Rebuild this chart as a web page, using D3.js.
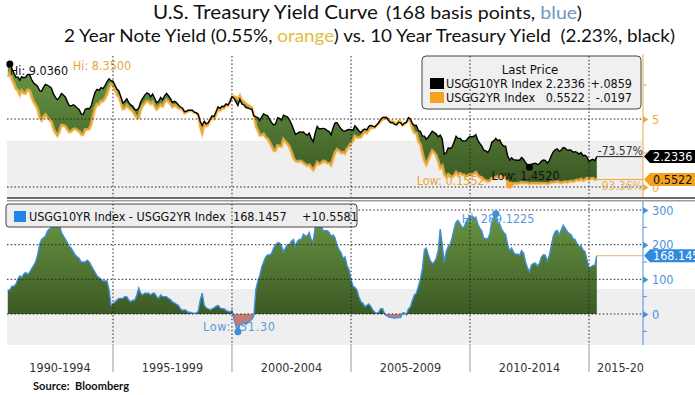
<!DOCTYPE html>
<html>
<head>
<meta charset="utf-8">
<script src="https://cdn.jsdelivr.net/npm/d3@7"></script>
<style>
  body { margin: 0; background: #fff; }
  svg { display: block; }
</style>
</head>
<body>
<svg id="chart" width="695" height="395"></svg>
<script>
"use strict"

// monthly values, first month is Aug 1990
const firstMonth = new Date(1990, 7, 1);

// 10 year treasury yield (%)
const yield10 = [
  8.80, 9.036, 8.72, 8.39, 8.08,
  8.09, 7.85, 8.11, 8.04, 8.07, 8.28, 8.27, 7.90, 7.65, 7.53, 7.42, 7.09,
  7.03, 7.34, 7.54, 7.48, 7.39, 7.26, 6.84, 6.59, 6.42, 6.59, 6.87, 6.77,
  6.60, 6.26, 5.98, 5.97, 6.04, 5.96, 5.81, 5.68, 5.36, 5.33, 5.72, 5.77,
  5.75, 5.97, 6.48, 6.97, 7.18, 7.10, 7.30, 7.24, 7.46, 7.74, 7.96, 7.81,
  7.78, 7.47, 7.20, 7.06, 6.63, 6.17, 6.28, 6.49, 6.20, 6.04, 5.93, 5.71,
  5.65, 5.81, 6.27, 6.51, 6.74, 6.91, 6.87, 6.64, 6.83, 6.53, 6.20, 6.30,
  6.58, 6.42, 6.69, 6.89, 6.71, 6.49, 6.22, 6.30, 6.21, 6.03, 5.88, 5.81,
  5.54, 5.57, 5.65, 5.64, 5.65, 5.50, 5.46, 5.34, 4.81, 4.53, 4.83, 4.65,
  4.72, 5.00, 5.23, 5.18, 5.54, 5.90, 5.79, 5.94, 5.92, 6.11, 6.03, 6.28,
  6.66, 6.52, 6.26, 5.99, 6.44, 6.10, 6.05, 5.83, 5.80, 5.74, 5.72, 5.24,
  5.16, 5.10, 4.89, 5.14, 5.39, 5.28, 5.24, 4.97, 4.73, 4.57, 4.65, 5.09,
  5.04, 4.91, 5.28, 5.21, 5.16, 4.93, 4.65, 4.26, 3.87, 3.94, 4.05, 4.03,
  4.05, 3.90, 3.81, 3.96, 3.57, 3.33, 3.98, 4.45, 4.27, 4.29, 4.30, 4.27,
  4.15, 4.08, 3.83, 4.35, 4.72, 4.73, 4.50, 4.28, 4.13, 4.10, 4.19, 4.23,
  4.22, 4.17, 4.50, 4.34, 4.14, 4.00, 4.18, 4.26, 4.20, 4.46, 4.54, 4.47,
  4.42, 4.57, 4.72, 4.99, 5.11, 5.11, 5.09, 4.88, 4.72, 4.73, 4.60, 4.56,
  4.76, 4.72, 4.56, 4.69, 4.75, 5.10, 5.00, 4.67, 4.52, 4.53, 4.15, 4.10,
  3.74, 3.74, 3.51, 3.68, 3.88, 4.10, 4.01, 3.89, 3.69, 3.81, 3.53, 2.42,
  2.52, 2.87, 2.82, 2.93, 3.29, 3.72, 3.56, 3.59, 3.40, 3.39, 3.40, 3.59,
  3.73, 3.69, 3.73, 3.85, 3.42, 3.20, 3.01, 2.70, 2.65, 2.54, 2.76, 3.29,
  3.39, 3.58, 3.41, 3.46, 3.17, 3.00, 3.00, 2.30, 1.98, 2.15, 2.01, 1.98,
  1.97, 1.97, 2.17, 2.05, 1.80, 1.62, 1.452, 1.68, 1.72, 1.75, 1.65, 1.72,
  1.91, 1.98, 1.96, 1.76, 1.93, 2.30, 2.58, 2.74, 2.81, 2.62, 2.72, 2.90,
  2.86, 2.71, 2.72, 2.71, 2.56, 2.60, 2.54, 2.42, 2.53, 2.30, 2.33, 2.21,
  1.88, 1.98, 2.04, 1.94, 2.2336
];

// 2 year note yield (%)
const yield2 = [
  8.10, 8.35, 7.92, 7.59, 7.23,
  7.09, 6.75, 7.06, 6.89, 6.87, 7.13, 7.07, 6.60, 6.25, 6.03, 5.72, 5.09,
  4.88, 5.14, 5.29, 5.08, 4.94, 4.76, 4.26, 3.97, 3.77, 4.04, 4.52, 4.52,
  4.45, 4.21, 4.03, 4.07, 4.24, 4.26, 4.16, 4.08, 3.86, 3.83, 4.22, 4.22,
  4.25, 4.57, 5.18, 5.77, 6.08, 6.05, 6.30, 6.29, 6.51, 6.79, 7.26, 7.56,
  7.48, 7.12, 6.80, 6.61, 6.18, 5.72, 5.78, 5.99, 5.80, 5.69, 5.53, 5.31,
  5.10, 5.06, 5.67, 5.96, 6.14, 6.31, 6.27, 6.09, 6.23, 5.93, 5.70, 5.85,
  6.03, 5.92, 6.19, 6.39, 6.26, 6.07, 5.87, 5.98, 5.93, 5.78, 5.73, 5.71,
  5.42, 5.47, 5.60, 5.59, 5.62, 5.48, 5.44, 5.26, 4.41, 3.93, 4.58, 4.47,
  4.57, 4.88, 5.08, 5.00, 5.32, 5.65, 5.61, 5.79, 5.77, 6.01, 5.95, 6.23,
  6.56, 6.67, 6.61, 6.503, 6.74, 6.40, 6.30, 6.13, 6.05, 5.94, 5.87, 5.29,
  4.46, 4.15, 3.79, 3.79, 3.89, 3.63, 3.54, 3.27, 2.98, 2.67, 2.65, 3.04,
  2.99, 2.96, 3.48, 3.31, 3.16, 2.93, 2.55, 2.11, 1.92, 1.84, 1.90, 1.88,
  1.75, 1.65, 1.56, 1.61, 1.42, 1.23, 1.48, 1.80, 1.67, 1.74, 1.90, 1.87,
  1.75, 1.73, 1.58, 2.07, 2.52, 2.75, 2.64, 2.51, 2.53, 2.45, 2.79, 2.95,
  3.22, 3.37, 3.73, 3.64, 3.64, 3.64, 3.87, 4.04, 3.95, 4.17, 4.33, 4.35,
  4.37, 4.55, 4.67, 4.84, 4.96, 5.11, 5.14, 4.96, 4.82, 4.83, 4.72, 4.66,
  4.86, 4.82, 4.53, 4.66, 4.77, 4.95, 4.80, 4.27, 3.97, 3.93, 3.35, 3.10,
  2.44, 1.89, 1.61, 1.98, 2.33, 2.65, 2.51, 2.29, 1.84, 1.36, 1.53, 0.92,
  0.72, 0.92, 0.82, 0.73, 0.84, 1.07, 0.86, 0.99, 0.90, 0.89, 0.75, 0.84,
  0.93, 0.86, 0.96, 1.06, 0.83, 0.72, 0.62, 0.52, 0.47, 0.38, 0.45, 0.62,
  0.61, 0.69, 0.76, 0.86, 0.72, 0.65, 0.70, 0.30, 0.1552, 0.25, 0.23, 0.26,
  0.24, 0.28, 0.34, 0.29, 0.29, 0.29, 0.23, 0.27, 0.26, 0.28, 0.27, 0.26,
  0.27, 0.27, 0.26, 0.23, 0.25, 0.33, 0.34, 0.36, 0.40, 0.34, 0.30, 0.34,
  0.39, 0.33, 0.40, 0.42, 0.39, 0.45, 0.51, 0.47, 0.57, 0.45, 0.53, 0.64,
  0.55, 0.62, 0.64, 0.54, 0.5522
];

// 10Y - 2Y spread (basis points)
const spread = [
  70, 68.6, 80, 80, 85,
  100, 110, 105, 115, 120, 115, 120, 130, 140, 150, 170, 200,
  215, 220, 225, 240, 245, 250, 258, 262, 265, 255, 235, 225,
  215, 205, 195, 190, 180, 170, 165, 160, 150, 150, 150, 155,
  150, 140, 130, 120, 110, 105, 100, 95, 95, 95, 70, 25,
  30, 35, 40, 45, 45, 45, 50, 50, 40, 35, 40, 40,
  55, 75, 60, 55, 60, 60, 60, 55, 60, 60, 50, 45,
  55, 50, 50, 50, 45, 42, 35, 32, 28, 25, 15, 10,
  12, 10, 5, 5, 3, 2, 2, 8, 40, 60, 25, 18,
  15, 12, 15, 18, 22, 25, 18, 15, 15, 10, 8, 5,
  10, -15, -35, -51.3, -30, -30, -25, -30, -25, -20, -15, -5,
  70, 95, 110, 135, 150, 165, 170, 170, 175, 190, 200, 205,
  205, 195, 180, 190, 200, 200, 210, 215, 195, 210, 215, 215,
  230, 225, 225, 235, 215, 210, 250, 265, 260, 255, 240, 240,
  240, 235, 225, 228, 220, 198, 186, 177, 160, 165, 140, 128,
  100, 80, 77, 70, 50, 36, 31, 22, 25, 29, 21, 12,
  5, 2, 5, 15, 15, 0, -5, -8, -10, -10, -12, -10,
  -10, -10, 3, 3, -2, 15, 20, 40, 55, 60, 80, 100,
  130, 185, 190, 170, 155, 145, 150, 160, 185, 245, 200, 150,
  180, 195, 200, 220, 245, 265, 270, 260, 250, 250, 265, 275,
  280, 283, 277, 279, 259, 248, 239, 218, 218, 216, 231, 267,
  278, 289.1225, 265, 260, 245, 235, 230, 200, 182.5, 190, 178, 172,
  173, 169, 183, 176, 151, 133, 122, 141, 146, 147, 138, 146,
  164, 171, 170, 153, 168, 197, 224, 238, 241, 228, 242, 256,
  247, 238, 232, 229, 217, 215, 203, 195, 196, 185, 180, 157,
  133, 136, 140, 140, 168.1457
];

const periodLabels = ["1990-1994", "1995-1999", "2000-2004", "2005-2009", "2010-2014", "2015-2019"];
const yieldTicks = [0, 5];
const yieldMinorTicks = [2.5, 7.5];
const spreadTicks = [0, 100, 200, 300];
const spreadMinorTicks = [-50, 50, 150, 250];

const lastPriceRows = [
  { name: "USGG10YR Index", value: "2.2336", change: "+.0859", color: "#000000" },
  { name: "USGG2YR Index", value: "0.5522", change: "-.0197", color: "#f5a21f" }
];

// ---------------------------------------------------------------
const bbFont = "'DejaVu Sans Condensed','DejaVu Sans',sans-serif";
const titleFont = "Lato,'Open Sans',sans-serif";
const orange = "#f2a52a";
const blue = "#3d8fe0";

const rows = yield10.map((v, i) => ({
  date: d3.timeMonth.offset(firstMonth, i),
  y10: v,
  y2: yield2[i],
  sp: spread[i]
}));

const plotLeft = 7, plotRight = 643;
const topTop = 56, topBottom = 197;
const botTop = 201, botBottom = 345;

const x = d3.scaleTime()
  .domain([new Date(1990, 0, 1), new Date(2015, 0, 1)])
  .range([-6, 589]);
const yTop = d3.scaleLinear().domain([0, 5]).range([187, 119]);
const ySp = d3.scaleLinear().domain([0, 300]).range([314, 210]);

const svg = d3.select("#chart");
const defs = svg.append("defs");

// gradients for the green fills
function greenGrad(id, y1, y2) {
  let g = defs.append("linearGradient").attr("id", id)
    .attr("gradientUnits", "userSpaceOnUse")
    .attr("x1", 0).attr("x2", 0).attr("y1", y1).attr("y2", y2);
  g.append("stop").attr("offset", 0).attr("stop-color", "#6b9744");
  g.append("stop").attr("offset", 1).attr("stop-color", "#3b5a24");
}
greenGrad("gTop", yTop(9), yTop(0.5));
greenGrad("gBot", ySp(300), ySp(0));

defs.append("clipPath").attr("id", "clipTop").append("rect")
  .attr("x", plotLeft).attr("y", topTop).attr("width", plotRight - plotLeft).attr("height", topBottom - topTop);
defs.append("clipPath").attr("id", "clipPos").append("rect")
  .attr("x", plotLeft).attr("y", botTop).attr("width", plotRight - plotLeft).attr("height", ySp(0) - botTop);
defs.append("clipPath").attr("id", "clipNeg").append("rect")
  .attr("x", plotLeft).attr("y", ySp(0)).attr("width", plotRight - plotLeft).attr("height", botBottom - ySp(0));
defs.append("clipPath").attr("id", "clipAxis").append("rect")
  .attr("x", plotLeft).attr("y", botBottom).attr("width", plotRight - plotLeft + 1).attr("height", 40);

// ---------- titles ----------
svg.append("text").attr("x", 153).attr("y", 19)
  .attr("font-family", titleFont).attr("font-size", 20).attr("fill", "#111")
  .attr("textLength", 225).attr("lengthAdjust", "spacingAndGlyphs")
  .text("U.S. Treasury Yield Curve");
let t1b = svg.append("text").attr("x", 386).attr("y", 19)
  .attr("font-family", titleFont).attr("font-size", 16.5).attr("fill", "#111")
  .attr("textLength", 196).attr("lengthAdjust", "spacingAndGlyphs");
t1b.append("tspan").text("(168 basis points, ");
t1b.append("tspan").attr("fill", "#7195c4").text("blue");
t1b.append("tspan").text(")");

let t2 = svg.append("text").attr("x", 64).attr("y", 42)
  .attr("font-family", titleFont).attr("font-size", 17).attr("fill", "#111")
  .attr("textLength", 611).attr("lengthAdjust", "spacingAndGlyphs")
  .style("white-space", "pre");
t2.append("tspan").text("2 Year Note Yield (0.55%, ");
t2.append("tspan").attr("fill", "#e3bd3c").text("orange");
t2.append("tspan").text(") vs. 10 Year Treasury Yield  (2.23%, black)");

// ---------- background bands ----------
svg.append("rect").attr("x", plotLeft).attr("y", yTop(3.4))
  .attr("width", plotRight - plotLeft).attr("height", topBottom - yTop(3.4)).attr("fill", "#efefef");
svg.append("rect").attr("x", plotLeft).attr("y", ySp(72))
  .attr("width", 695 - plotLeft).attr("height", botBottom - ySp(72)).attr("fill", "#efefef");

// ---------- top panel ----------
const gTop = svg.append("g").attr("clip-path", "url(#clipTop)");
gTop.append("path").datum(rows)
  .attr("d", d3.area().x(d => x(d.date)).y0(d => yTop(d.y2)).y1(d => yTop(d.y10)))
  .attr("fill", "url(#gTop)");
gTop.append("path").datum(rows)
  .attr("d", d3.line().x(d => x(d.date)).y(d => yTop(d.y2)))
  .attr("fill", "none").attr("stroke", "#f6c87a").attr("stroke-width", 3.4).attr("opacity", 0.6);
gTop.append("path").datum(rows)
  .attr("d", d3.line().x(d => x(d.date)).y(d => yTop(d.y2)))
  .attr("fill", "none").attr("stroke", orange).attr("stroke-width", 1.6);
gTop.append("path").datum(rows)
  .attr("d", d3.line().x(d => x(d.date)).y(d => yTop(d.y10)))
  .attr("fill", "none").attr("stroke", "#000").attr("stroke-width", 1.4);

// ---------- bottom panel ----------
const spArea = d3.area().x(d => x(d.date)).y0(ySp(0)).y1(d => ySp(d.sp));
svg.append("path").datum(rows).attr("d", spArea)
  .attr("fill", "url(#gBot)").attr("clip-path", "url(#clipPos)");
svg.append("path").datum(rows).attr("d", spArea)
  .attr("fill", "#c67b74").attr("clip-path", "url(#clipNeg)");
svg.append("path").datum(rows)
  .attr("d", d3.line().x(d => x(d.date)).y(d => ySp(d.sp)))
  .attr("fill", "none").attr("stroke", blue).attr("stroke-width", 1.4);

// ---------- horizontal gridlines ----------
const dots = "1.5,2.2";
svg.append("g").selectAll("line").data(yieldTicks).join("line")
  .attr("x1", plotLeft).attr("x2", plotRight)
  .attr("y1", d => yTop(d)).attr("y2", d => yTop(d))
  .attr("stroke", "#222").attr("stroke-width", 1).attr("stroke-dasharray", dots);
svg.append("g").selectAll("line").data(spreadTicks).join("line")
  .attr("x1", plotLeft).attr("x2", plotRight)
  .attr("y1", d => ySp(d)).attr("y2", d => ySp(d))
  .attr("stroke", "#222").attr("stroke-width", 1).attr("stroke-dasharray", dots);

// ---------- last value lines ----------
const last = rows[rows.length - 1];
const xLast = x(last.date);
svg.append("line").attr("x1", xLast).attr("x2", plotRight)
  .attr("y1", yTop(last.y10)).attr("y2", yTop(last.y10)).attr("stroke", "#222").attr("stroke-width", 1);
svg.append("line").attr("x1", xLast).attr("x2", plotRight)
  .attr("y1", yTop(last.y2)).attr("y2", yTop(last.y2)).attr("stroke", orange).attr("stroke-width", 1);
svg.append("line").attr("x1", xLast).attr("x2", plotRight)
  .attr("y1", ySp(last.sp)).attr("y2", ySp(last.sp)).attr("stroke", "#e6b36c").attr("stroke-width", 1);

// ---------- right axes ----------
function rightAxis(scale, major, minor, color, y1, y2) {
  let g = svg.append("g").attr("transform", `translate(${plotRight},0)`)
    .call(d3.axisRight(scale).tickValues(major).tickSize(0).tickPadding(9).tickFormat(d3.format("d")));
  g.select(".domain").remove();
  g.selectAll(".tick text").attr("fill", color).attr("font-family", bbFont).attr("font-size", 12.5);
  g.selectAll(".tick").append("path").attr("d", "M0,-3.5L5.5,0L0,3.5Z").attr("fill", color);
  g.append("g").selectAll("line").data(minor).join("line")
    .attr("x1", 0).attr("x2", 4).attr("y1", d => scale(d)).attr("y2", d => scale(d))
    .attr("stroke", color).attr("stroke-width", 1);
  g.append("line").attr("x1", 0).attr("x2", 0).attr("y1", y1).attr("y2", y2)
    .attr("stroke", color).attr("stroke-width", 1);
}
rightAxis(yTop, yieldTicks, yieldMinorTicks, "#eda746", topTop - 2, topBottom);
rightAxis(ySp, spreadTicks, spreadMinorTicks, "#4a92d8", botTop, botBottom);

svg.append("text").attr("x", xLast + 1).attr("y", yTop(last.y10) - 2)
  .attr("font-family", bbFont).attr("font-size", 12).attr("fill", "#333").text("-73.57%");
svg.append("text").attr("x", xLast + 1).attr("y", yTop(last.y2) + 11)
  .attr("font-family", bbFont).attr("font-size", 12).attr("fill", "#e8b060").text("-93.36%");

// ---------- hi / low markers ----------
function extremeRow(key, fn) {
  let v = fn(rows, d => d[key]);
  return rows.find(d => d[key] === v);
}
const hi10 = extremeRow("y10", d3.max), lo10 = extremeRow("y10", d3.min);
const hi2 = extremeRow("y2", d3.max), lo2 = extremeRow("y2", d3.min);
const hiSp = extremeRow("sp", d3.max), loSp = extremeRow("sp", d3.min);

function label(px, py, txt, color, len) {
  let t = svg.append("text").attr("x", px).attr("y", py)
    .attr("font-family", bbFont).attr("font-size", 12.5).attr("fill", color).text(txt);
  if (len) t.attr("textLength", len);
}
label(x(hi2.date) + 63, yTop(hi2.y2) - 3, "Hi: " + hi2.y2.toFixed(4), "#e8a53c");
label(x(hi10.date), yTop(hi10.y10) + 11, "Hi: " + hi10.y10.toFixed(4), "#111");
label(x(lo2.date) - 93, yTop(lo2.y2) + 0.5, "Low: " + lo2.y2.toFixed(4), "#e8a53c");
label(x(lo10.date) - 38, yTop(lo10.y10) + 12.5, "Low: " + lo10.y10.toFixed(4), "#111");
label(x(hiSp.date) - 34, ySp(hiSp.sp) + 9, "Hi: " + hiSp.sp.toFixed(4), "#5a9ad8");
label(x(loSp.date) - 35, ySp(loSp.sp) - 0.5, "Low: " + loSp.sp.toFixed(2), "#5a9ad8", 72);

svg.append("circle").attr("cx", x(hi10.date)).attr("cy", yTop(hi10.y10)).attr("r", 3.5).attr("fill", "#000");
svg.append("circle").attr("cx", x(lo10.date)).attr("cy", yTop(lo10.y10)).attr("r", 3.5).attr("fill", "#000");
svg.append("circle").attr("cx", x(lo2.date)).attr("cy", yTop(lo2.y2)).attr("r", 3.5).attr("fill", orange);
svg.append("circle").attr("cx", x(hiSp.date)).attr("cy", ySp(hiSp.sp)).attr("r", 3.5).attr("fill", blue);
svg.append("circle").attr("cx", x(loSp.date)).attr("cy", ySp(loSp.sp)).attr("r", 3.5).attr("fill", blue);

// ---------- legends ----------
svg.append("rect").attr("x", 422).attr("y", 56).attr("width", 219).attr("height", 53).attr("rx", 4)
  .attr("fill", "#f0f0f0").attr("stroke", "#444").attr("stroke-width", 1);
svg.append("text").attr("x", 530).attr("y", 74).attr("text-anchor", "middle")
  .attr("font-family", bbFont).attr("font-size", 13).attr("fill", "#111").text("Last Price");
lastPriceRows.forEach((r, i) => {
  let by = 88 + i * 14;
  svg.append("rect").attr("x", 430).attr("y", by - 10).attr("width", 14).attr("height", 11).attr("fill", r.color);
  svg.append("text").attr("x", 446).attr("y", by).attr("font-family", bbFont).attr("font-size", 12.5)
    .attr("fill", "#111").text(r.name);
  svg.append("text").attr("x", 585).attr("y", by).attr("text-anchor", "end").attr("font-family", bbFont)
    .attr("font-size", 12.5).attr("fill", "#111").text(r.value);
  svg.append("text").attr("x", 632).attr("y", by).attr("text-anchor", "end").attr("font-family", bbFont)
    .attr("font-size", 12.5).attr("fill", "#111").text(r.change);
});

svg.append("rect").attr("x", 6).attr("y", 204).attr("width", 351).attr("height", 23).attr("rx", 3)
  .attr("fill", "#eeeeee").attr("stroke", "#444").attr("stroke-width", 1);
svg.append("rect").attr("x", 14).attr("y", 211).attr("width", 12).attr("height", 11).attr("fill", "#1f86e8");
svg.append("text").attr("x", 29).attr("y", 221).attr("font-family", bbFont).attr("font-size", 12.5)
  .attr("fill", "#111").text("USGG10YR Index - USGG2YR Index");
svg.append("text").attr("x", 233).attr("y", 221).attr("font-family", bbFont).attr("font-size", 12.5)
  .attr("fill", "#111").text("168.1457");
svg.append("text").attr("x", 302).attr("y", 221).attr("font-family", bbFont).attr("font-size", 12.5)
  .attr("fill", "#111").text("+10.5581");

// ---------- vertical gridlines (on top of fills and legends) ----------
const fiveYears = d3.timeYear.every(5).range(new Date(1995, 0, 1), new Date(2016, 0, 1));
svg.append("g").selectAll("line").data(fiveYears).join("line")
  .attr("x1", d => x(d)).attr("x2", d => x(d))
  .attr("y1", topTop).attr("y2", botBottom)
  .attr("stroke", "#222").attr("stroke-width", 1).attr("stroke-dasharray", dots);

// ---------- panel separator ----------
svg.append("rect").attr("x", plotLeft).attr("y", 197).attr("width", 695 - plotLeft).attr("height", 2).attr("fill", "#6c6c6c");
svg.append("rect").attr("x", plotLeft).attr("y", 200).attr("width", 695 - plotLeft).attr("height", 1.5).attr("fill", "#9c9c9c");

// ---------- x axis ----------
const xAxis = svg.append("g").attr("transform", `translate(0,${botBottom})`)
  .call(d3.axisBottom(x).ticks(d3.timeYear.every(1)).tickSize(4).tickFormat(""))
  .attr("clip-path", "url(#clipAxis)");
xAxis.select(".domain").attr("d", `M${plotLeft},0.5H${plotRight}`).attr("stroke", "#666");
xAxis.selectAll(".tick line").attr("stroke", "#555");

svg.append("g").selectAll("line").data(fiveYears).join("line")
  .attr("x1", d => x(d)).attr("x2", d => x(d))
  .attr("y1", botBottom).attr("y2", 372).attr("stroke", "#999").attr("stroke-width", 1);

defs.append("clipPath").attr("id", "clipLabels").append("rect")
  .attr("x", 0).attr("y", botBottom).attr("width", plotRight + 1).attr("height", 40);
svg.append("g").attr("clip-path", "url(#clipLabels)")
  .selectAll("text").data(periodLabels).join("text")
  .each(function(d, i) {
    let a = Math.max(x(new Date(1990 + 5 * i, 0, 1)), plotLeft);
    let b = x(new Date(1995 + 5 * i, 0, 1));
    let t = d3.select(this);
    if (b > plotRight) {
      t.attr("x", a + 8).attr("text-anchor", "start");
    } else {
      t.attr("x", (a + b) / 2).attr("text-anchor", "middle");
    }
  })
  .attr("y", 372).attr("font-family", bbFont).attr("font-size", 12.5).attr("fill", "#333")
  .text(d => d);

// ---------- last value tags ----------
function tag(cy, txt, fill, textColor) {
  svg.append("path")
    .attr("d", `M${plotRight + 1},${cy}L${plotRight + 7},${cy - 6.5}H695V${cy + 6.5}H${plotRight + 7}Z`)
    .attr("fill", fill);
  svg.append("text").attr("x", plotRight + 10).attr("y", cy + 4.5)
    .attr("font-family", bbFont).attr("font-size", 12.5).attr("fill", textColor).text(txt);
}
tag(yTop(last.y10), last.y10.toFixed(4), "#000", "#fff");
tag(yTop(last.y2), last.y2.toFixed(4), "#f5a21f", "#111");
tag(ySp(last.sp), last.sp.toFixed(4), "#2f8ae0", "#fff");

// ---------- source ----------
svg.append("text").attr("x", 33).attr("y", 390)
  .attr("font-family", titleFont).attr("font-size", 11).attr("font-weight", "bold").attr("fill", "#111")
  .attr("textLength", 96).style("white-space", "pre")
  .text("Source:  Bloomberg");
</script>
</body>
</html>
